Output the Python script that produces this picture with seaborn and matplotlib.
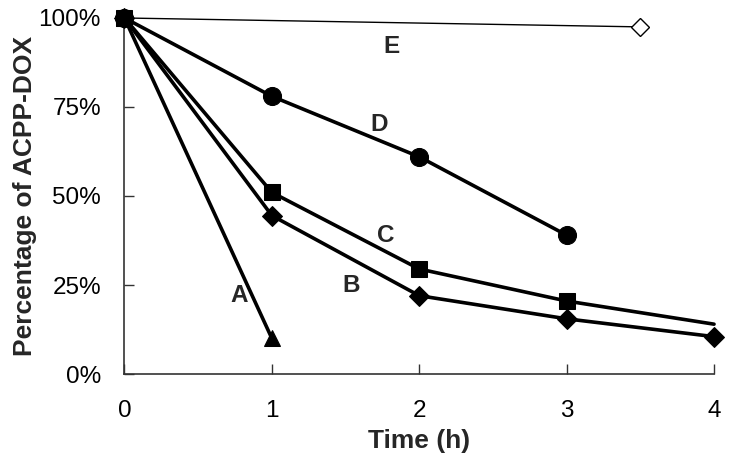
import pandas as pd
import seaborn as sns
import matplotlib
matplotlib.use("Agg")
import matplotlib.pyplot as plt
from matplotlib.ticker import PercentFormatter

# data
time_a = [0, 1]
pct_a = [1.00, 0.10]
time_b = [0, 1, 2, 3, 4]
pct_b = [1.00, 0.445, 0.22, 0.155, 0.105]
time_c = [0, 1, 2, 3, 4]
pct_c = [1.00, 0.51, 0.295, 0.205, 0.14]
time_d = [0, 1, 2, 3]
pct_d = [1.00, 0.78, 0.61, 0.39]
time_e = [0, 3.5]
pct_e = [1.00, 0.975]

x_ticks = [0, 1, 2, 3, 4]
y_ticks = [0, 0.25, 0.5, 0.75, 1.0]

sns.set_theme(style="ticks")
plt.rcParams["font.family"] = ["Liberation Sans", "DejaVu Sans"]

fig, ax = plt.subplots(figsize=(7.34, 4.66), dpi=100)
plt.subplots_adjust(left=0.1696, right=0.9728, top=0.9614, bottom=0.1974)

# thin line E with open diamond at the end
sns.lineplot(x=time_e, y=pct_e, ax=ax, color="black", linewidth=1.0, marker="D",
             markersize=9, markerfacecolor="white", markeredgecolor="black",
             markeredgewidth=1.0, markevery=[1], clip_on=False, zorder=3)
sns.lineplot(x=time_a, y=pct_a, ax=ax, color="black", linewidth=2.6, marker="^",
             markersize=12, markeredgecolor="black", clip_on=False, zorder=4)
sns.lineplot(x=time_d, y=pct_d, ax=ax, color="black", linewidth=2.6, marker="o",
             markersize=13, markeredgecolor="black", clip_on=False, zorder=4)
sns.lineplot(x=time_b, y=pct_b, ax=ax, color="black", linewidth=2.6, marker="D",
             markersize=10, markeredgecolor="black", clip_on=False, zorder=5)
sns.lineplot(x=time_c, y=pct_c, ax=ax, color="black", linewidth=2.6, marker="s",
             markersize=12, markeredgecolor="black", markevery=[0, 1, 2, 3],
             clip_on=False, zorder=6)

# series labels
for txt, xx, yy in [("A", 0.78, 0.22), ("B", 1.54, 0.25), ("C", 1.77, 0.39),
                    ("D", 1.73, 0.70), ("E", 1.81, 0.92)]:
    ax.text(xx, yy, txt, fontsize=17.5, fontweight="bold", ha="center", va="center")

ax.set(xlim=(0, 4), ylim=(0, 1))
ax.set_xticks(x_ticks)
ax.set_yticks(y_ticks)
ax.yaxis.set_major_formatter(PercentFormatter(1.0, decimals=0))
ax.tick_params(direction="in", length=7, width=1, color="#333333", labelsize=17.5,
               labelcolor="black")
ax.tick_params(axis="x", pad=19)
ax.tick_params(axis="y", pad=17)
for side in ["top", "right"]:
    ax.spines[side].set_visible(False)
for side in ["left", "bottom"]:
    ax.spines[side].set_color("#333333")
    ax.spines[side].set_linewidth(1.2)

ax.set_xlabel("Time (h)", fontsize=19, fontweight="bold", labelpad=5)
ax.set_ylabel("Percentage of ACPP-DOX", fontsize=19, fontweight="bold", labelpad=1)

fig.savefig("out.png", dpi=100)
